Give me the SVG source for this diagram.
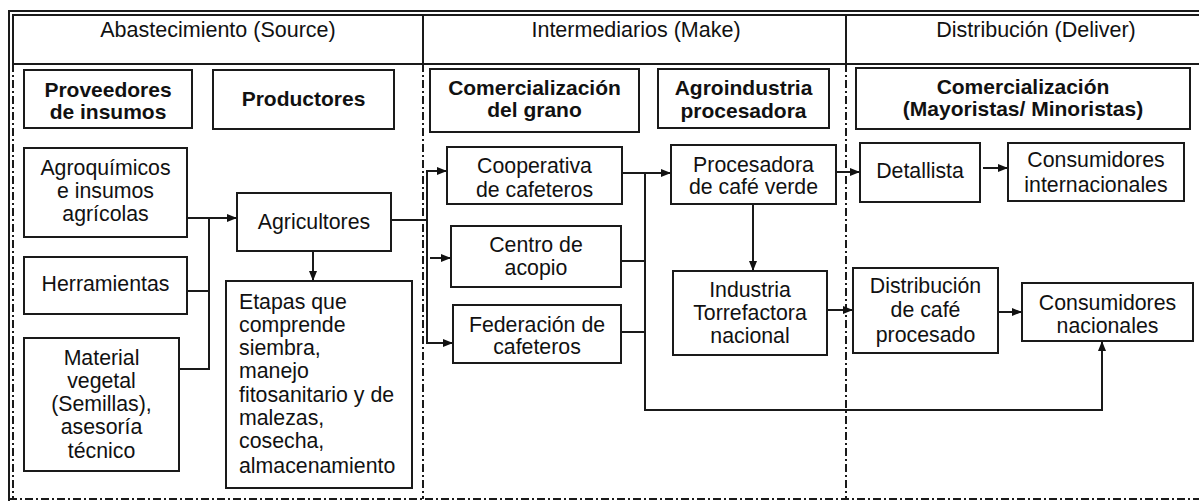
<svg xmlns="http://www.w3.org/2000/svg" width="1199" height="502" viewBox="0 0 1199 502">
<style>
.bx{fill:#fff;stroke:#1a1a1a;stroke-width:2}
.t{font-family:"Liberation Sans",Arial,sans-serif;font-size:21.3px;fill:#111;text-anchor:middle}
.tl{text-anchor:start}
.b{font-weight:bold;font-size:21px}
.h{font-size:21.5px}
.ln{fill:none;stroke:#1a1a1a;stroke-width:2}
.dd{fill:none;stroke:#1a1a1a;stroke-width:2;stroke-dasharray:8 3 2 3}
</style>
<defs>
<marker id="ah" viewBox="0 0 10 10" refX="10" refY="5" markerWidth="10" markerHeight="10" markerUnits="userSpaceOnUse" orient="auto">
<path d="M0,1 L10,5 L0,9 Z" fill="#111"/>
</marker>
</defs>
<rect width="1199" height="502" fill="#fff"/>
<g id="frame">
<line class="ln" x1="9" y1="11" x2="1199" y2="11"/>
<line class="ln" x1="13" y1="15" x2="1199" y2="15"/>
<line class="ln" x1="9" y1="10" x2="9" y2="501"/>
<line class="ln" x1="13" y1="14" x2="13" y2="64"/>
<line class="dd" x1="13" y1="64" x2="13" y2="500"/>
<line class="ln" x1="13" y1="64" x2="1199" y2="64"/>
<line class="dd" x1="9" y1="499" x2="1199" y2="499"/>
<line class="ln" x1="423" y1="15" x2="423" y2="64"/>
<line class="dd" x1="423" y1="64" x2="423" y2="499"/>
<line class="ln" x1="846" y1="15" x2="846" y2="64"/>
<line class="dd" x1="846" y1="64" x2="846" y2="499"/>
<text class="t h" x="218" y="37">Abastecimiento (Source)</text>
<text class="t h" x="636" y="37">Intermediarios (Make)</text>
<text class="t h" x="1036" y="37">Distribución (Deliver)</text>
</g>
<g id="cat-proveedores"><rect class="bx" x="24" y="70" width="168" height="58"/><text class="t b" x="108" y="97">Proveedores</text><text class="t b" x="108" y="119">de insumos</text></g>
<g id="cat-productores"><rect class="bx" x="213" y="70" width="181" height="59"/><text class="t b" x="303.5" y="106">Productores</text></g>
<g id="cat-comgrano"><rect class="bx" x="430" y="69" width="209" height="63"/><text class="t b" x="534.5" y="95">Comercialización</text><text class="t b" x="534.5" y="117">del grano</text></g>
<g id="cat-agroind"><rect class="bx" x="658" y="69" width="171" height="59"/><text class="t b" x="743.5" y="95">Agroindustria</text><text class="t b" x="743.5" y="118">procesadora</text></g>
<g id="cat-commay"><rect class="bx" x="856" y="68" width="334" height="61"/><text class="t b" x="1023" y="94">Comercialización</text><text class="t b" x="1023" y="116">(Mayoristas/ Minoristas)</text></g>

<g id="agroquimicos"><rect class="bx" x="24" y="148" width="163" height="89"/><text class="t" x="105.5" y="175">Agroquímicos</text><text class="t" x="105.5" y="198">e insumos</text><text class="t" x="105.5" y="221">agrícolas</text></g>
<g id="herramientas"><rect class="bx" x="24" y="257" width="163" height="57"/><text class="t" x="105.5" y="291">Herramientas</text></g>
<g id="material"><rect class="bx" x="24" y="338" width="155" height="133"/><text class="t" x="101.5" y="365">Material</text><text class="t" x="101.5" y="388">vegetal</text><text class="t" x="101.5" y="411">(Semillas),</text><text class="t" x="101.5" y="434">asesoría</text><text class="t" x="101.5" y="458">técnico</text></g>
<g id="agricultores"><rect class="bx" x="237" y="193" width="154" height="58"/><text class="t" x="314" y="229">Agricultores</text></g>
<g id="etapas"><rect class="bx" x="226" y="281" width="186" height="207"/><text class="t tl" x="239" y="309">Etapas que</text><text class="t tl" x="239" y="332">comprende</text><text class="t tl" x="239" y="355">siembra,</text><text class="t tl" x="239" y="378">manejo</text><text class="t tl" x="239" y="402">fitosanitario y de</text><text class="t tl" x="239" y="425">malezas,</text><text class="t tl" x="239" y="448">cosecha,</text><text class="t tl" x="239" y="473">almacenamiento</text></g>

<g id="cooperativa"><rect class="bx" x="447" y="147" width="175" height="57"/><text class="t" x="534.5" y="173">Cooperativa</text><text class="t" x="534.5" y="197">de cafeteros</text></g>
<g id="centro"><rect class="bx" x="451" y="226" width="170" height="61"/><text class="t" x="536" y="252">Centro de</text><text class="t" x="536" y="275">acopio</text></g>
<g id="federacion"><rect class="bx" x="453" y="305" width="168" height="58"/><text class="t" x="537" y="332">Federación de</text><text class="t" x="537" y="354">cafeteros</text></g>
<g id="procesadora"><rect class="bx" x="671" y="145" width="165" height="59"/><text class="t" x="753.5" y="172">Procesadora</text><text class="t" x="753.5" y="194">de café verde</text></g>
<g id="industria"><rect class="bx" x="673" y="271" width="154" height="84"/><text class="t" x="750" y="297">Industria</text><text class="t" x="750" y="320">Torrefactora</text><text class="t" x="750" y="343">nacional</text></g>

<g id="detallista"><rect class="bx" x="860" y="143" width="120" height="59"/><text class="t" x="920" y="178">Detallista</text></g>
<g id="consint"><rect class="bx" x="1008" y="143" width="176" height="58"/><text class="t" x="1096" y="167">Consumidores</text><text class="t" x="1096" y="192">internacionales</text></g>
<g id="distribucion"><rect class="bx" x="853" y="268" width="145" height="85"/><text class="t" x="925.5" y="293">Distribución</text><text class="t" x="925.5" y="317">de café</text><text class="t" x="925.5" y="342">procesado</text></g>
<g id="consnac"><rect class="bx" x="1022" y="283" width="171" height="58"/><text class="t" x="1107.5" y="310">Consumidores</text><text class="t" x="1107.5" y="333">nacionales</text></g>

<g id="connectors">
<polyline class="ln" points="187,218 237,218" marker-end="url(#ah)"/>
<polyline class="ln" points="209,218 209,369 179,369"/>
<polyline class="ln" points="187,291 209,291"/>
<polyline class="ln" points="313,251 313,281" marker-end="url(#ah)"/>
<polyline class="ln" points="391,220 427,220"/>
<polyline class="ln" points="427,220 427,171 447,171" marker-end="url(#ah)"/>
<polyline class="ln" points="427,220 427,343 453,343" marker-end="url(#ah)"/>
<polyline class="ln" points="430,258 451,258" marker-end="url(#ah)"/>
<polyline class="ln" points="622,173 671,173" marker-end="url(#ah)"/>
<polyline class="ln" points="645,173 645,410 1102,410 1102,341" marker-end="url(#ah)"/>
<polyline class="ln" points="621,261 645,261"/>
<polyline class="ln" points="621,332 645,332"/>
<polyline class="ln" points="753,204 753,271" marker-end="url(#ah)"/>
<polyline class="ln" points="836,172 860,172" marker-end="url(#ah)"/>
<polyline class="ln" points="983,168 1008,168" marker-end="url(#ah)"/>
<polyline class="ln" points="827,310 853,310" marker-end="url(#ah)"/>
<polyline class="ln" points="998,312 1022,312" marker-end="url(#ah)"/>
</g>
</svg>
